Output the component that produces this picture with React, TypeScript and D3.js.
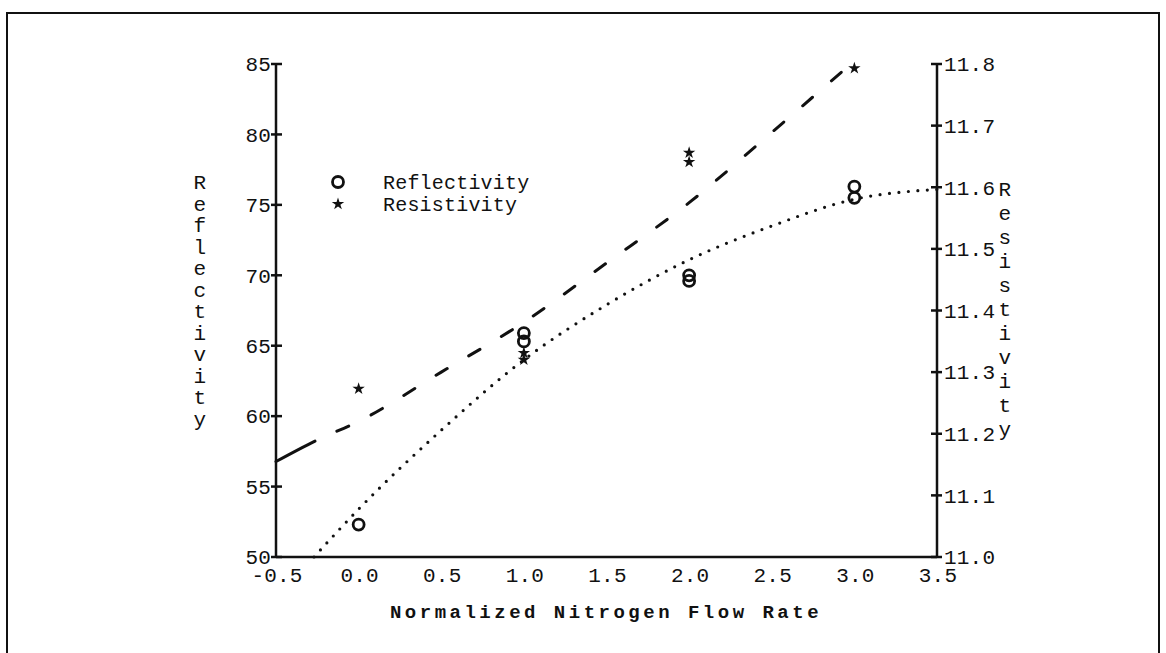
import React from "react"
import * as d3 from "d3"

// axis ticks
const xTicks = [-0.5, 0, 0.5, 1, 1.5, 2, 2.5, 3, 3.5]
const leftTicks = [50, 55, 60, 65, 70, 75, 80, 85]
const rightTicks = [11.0, 11.1, 11.2, 11.3, 11.4, 11.5, 11.6, 11.7, 11.8]

// measured points
const reflX = [0, 1, 1, 2, 2, 3, 3]
const reflY = [52.3, 65.9, 65.3, 70.0, 69.6, 76.3, 75.5]
const resX = [0, 1, 1, 2, 2, 3]
const resY = [11.273, 11.331, 11.32, 11.656, 11.641, 11.793]

// fitted curves
const reflFitX = [-0.27, 0, 0.5, 1, 1.5, 2, 2.5, 3, 3.5]
const reflFitY = [50, 53.4, 59.0, 64.0, 67.9, 71.1, 73.5, 75.4, 76.1]
const resFitX = [-0.5, -0.25, 0, 0.5, 1, 1.5, 2, 2.5, 3]
const resFitY = [11.155, 11.19, 11.22, 11.3, 11.381, 11.477, 11.575, 11.689, 11.805]

const font = "'Liberation Mono', 'Courier New', monospace"

export default function App() {
  const left = 276, right = 937, top = 64, bottom = 557

  const x = d3.scaleLinear().domain([-0.5, 3.5]).range([left, right])
  const yL = d3.scaleLinear().domain([50, 85]).range([bottom, top])
  const yR = d3.scaleLinear().domain([11.0, 11.8]).range([bottom, top])

  const reflLine = d3.line<number>()
    .x((d, i) => x(reflFitX[i]))
    .y(d => yL(d))
    .curve(d3.curveMonotoneX)
  const resLine = d3.line<number>()
    .x((d, i) => x(resFitX[i]))
    .y(d => yR(d))
    .curve(d3.curveMonotoneX)

  const star = d3.symbol().type(d3.symbolStar).size(48)()

  // first dash of the fit is longer, like the original plot
  const dashes = "44,24," + Array(40).fill("13,25").join(",")

  const textStyle = { fontFamily: font, fontSize: 21, letterSpacing: 0.2, fill: "#111" }

  return (
    <svg width={1166} height={653} style={{ position: "absolute", left: 0, top: 0, background: "#fff" }}>
      {/* frame, bottom edge runs off the page */}
      <rect x={7} y={13} width={1152} height={700} fill="none" stroke="#111" strokeWidth={2} />

      {/* axes */}
      <line x1={left} y1={top} x2={left} y2={bottom} stroke="#111" strokeWidth={2.5} />
      <line x1={right} y1={top} x2={right} y2={bottom} stroke="#111" strokeWidth={2.5} />
      <line x1={left} y1={bottom} x2={right} y2={bottom} stroke="#111" strokeWidth={2.5} />

      {leftTicks.map(t => (
        <g key={"l" + t}>
          <line x1={left - 5} x2={left + 6} y1={yL(t)} y2={yL(t)} stroke="#111" strokeWidth={2.5} />
          <text x={left - 5} y={yL(t)} dy="0.35em" textAnchor="end" style={textStyle}>{t}</text>
        </g>
      ))}
      {rightTicks.map(t => (
        <g key={"r" + t}>
          <line x1={right - 6} x2={right + 5} y1={yR(t)} y2={yR(t)} stroke="#111" strokeWidth={2.5} />
          <text x={right + 7} y={yR(t)} dy="0.35em" textAnchor="start" style={textStyle}>{t.toFixed(1)}</text>
        </g>
      ))}
      {xTicks.map(t => (
        <text key={"x" + t} x={x(t) + 1} y={bottom + 25} textAnchor="middle" style={textStyle}>{t.toFixed(1)}</text>
      ))}

      {/* axis titles */}
      {"Reflectivity".split("").map((c, i) => (
        <text key={"lt" + i} x={200} y={189 + i * 21.5} textAnchor="middle" style={textStyle}>{c}</text>
      ))}
      {"Resistivity".split("").map((c, i) => (
        <text key={"rt" + i} x={1005} y={196 + i * 24} textAnchor="middle" style={textStyle}>{c}</text>
      ))}
      <text x={606} y={618} textAnchor="middle" style={{ ...textStyle, fontSize: 19, letterSpacing: 3.5, fontWeight: "bold" }}>Normalized Nitrogen Flow Rate</text>

      {/* fits */}
      <path d={resLine(resFitY) || ""} fill="none" stroke="#111" strokeWidth={3} strokeDasharray={dashes} strokeLinecap="round" />
      <path d={reflLine(reflFitY) || ""} fill="none" stroke="#111" strokeWidth={3.2} strokeDasharray="0 9.5" strokeLinecap="round" />

      {/* points */}
      {reflY.map((v, i) => (
        <circle key={"c" + i} cx={x(reflX[i])} cy={yL(v)} r={5.5} fill="none" stroke="#111" strokeWidth={2.8} />
      ))}
      {resY.map((v, i) => (
        <path key={"s" + i} d={star || ""} transform={`translate(${x(resX[i])},${yR(v)})`} fill="#111" />
      ))}

      {/* legend */}
      <circle cx={338} cy={182} r={5.5} fill="none" stroke="#111" strokeWidth={2.8} />
      <path d={star || ""} transform="translate(338,204)" fill="#111" />
      <text x={383} y={189} style={{ ...textStyle, fontSize: 20 }}>Reflectivity</text>
      <text x={383} y={211} style={{ ...textStyle, fontSize: 20 }}>Resistivity</text>
    </svg>
  )
}
